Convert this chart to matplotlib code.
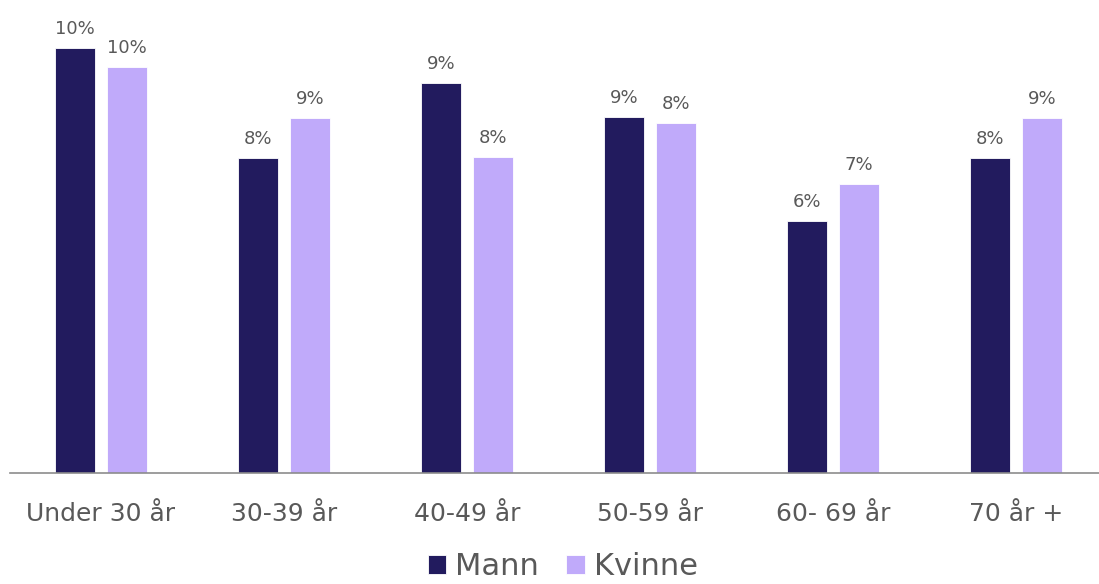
import matplotlib
matplotlib.use("Agg")
import matplotlib.pyplot as plt
import numpy as np

categories = ["Under 30 år", "30-39 år", "40-49 år", "50-59 år", "60- 69 år", "70 år +"]
mann = [10.24, 7.59, 9.40, 8.58, 6.07, 7.59]
kvinne = [9.78, 8.55, 7.61, 8.43, 6.96, 8.55]

dark = "#221b5e"
light = "#c0aafa"
grey = "#595959"

plt.rcParams['font.family'] = ['DejaVu Sans']

fig = plt.figure(figsize=(10.99, 5.84), dpi=100)
ax = fig.add_axes([9.5 / 1099, 111 / 584, 1098 / 1099, 456.5 / 584])

x = np.arange(len(categories))
w = 0.219
off = 0.142
b1 = ax.bar(x - off, mann, w, color=dark, edgecolor="white", linewidth=0.6, label="Mann")
b2 = ax.bar(x + off, kvinne, w, color=light, edgecolor="white", linewidth=0.6, label="Kvinne")

for bars in (b1, b2):
    for r in bars:
        v = r.get_height()
        ax.annotate(f"{v:.0f}%", (r.get_x() + r.get_width() / 2, v),
                    xytext=(0, 7), textcoords="offset points",
                    ha="center", va="bottom", fontsize=13, color=grey)

ax.set_xlim(-0.5, 5.5)
ax.set_ylim(0, 11)
ax.set_xticks(x)
ax.set_xticklabels(categories, fontsize=18, color=grey)
ax.tick_params(axis="x", length=0, pad=21)
ax.set_yticks([])
for s in ("top", "right", "left"):
    ax.spines[s].set_visible(False)
ax.spines["bottom"].set_color("#8c8c8c")
ax.spines["bottom"].set_linewidth(1.2)

fig.legend(handles=[b1, b2], labels=["Mann", "Kvinne"], loc="lower center",
           bbox_to_anchor=(0.512, -0.042), ncol=2, frameon=False, fontsize=22,
           handlelength=0.6, handleheight=0.6, handletextpad=0.3, columnspacing=0.9,
           labelcolor=grey)

fig.savefig("out.png", dpi=100)
